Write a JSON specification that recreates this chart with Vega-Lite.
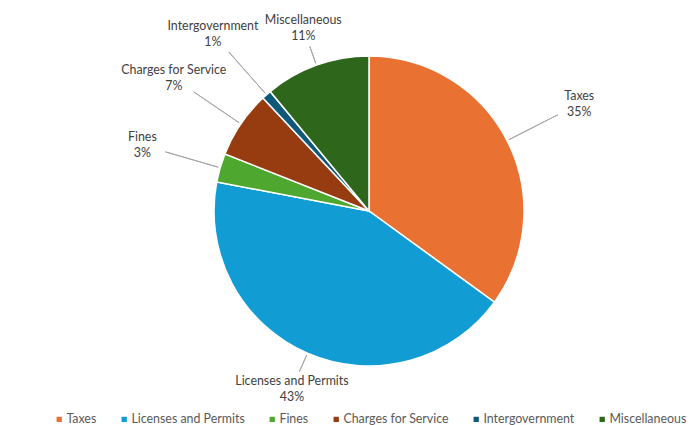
{
  "$schema": "https://vega.github.io/schema/vega-lite/v6.json",
  "width": 658,
  "height": 422,
  "autosize": {"type": "none"},
  "padding": {"left": 40, "top": 0, "right": 0, "bottom": 3},
  "background": "white",
  "config": {"view": {"stroke": null}, "font": "Lato"},
  "data": {
    "values": [
      {"idx": 1, "category": "Taxes", "share": 0.35},
      {"idx": 2, "category": "Licenses and Permits", "share": 0.43},
      {"idx": 3, "category": "Fines", "share": 0.03},
      {"idx": 4, "category": "Charges for Service", "share": 0.07},
      {"idx": 5, "category": "Intergovernment", "share": 0.01},
      {"idx": 6, "category": "Miscellaneous", "share": 0.11}
    ]
  },
  "encoding": {
    "theta": {"field": "share", "type": "quantitative", "stack": true},
    "order": {"field": "idx", "type": "quantitative", "sort": "ascending"},
    "detail": {"field": "category", "type": "nominal"}
  },
  "layer": [
    {
      "mark": {"type": "arc", "radius": 155, "stroke": "#ffffff", "strokeWidth": 1.5},
      "encoding": {
        "color": {
          "field": "category",
          "type": "nominal",
          "scale": {
            "domain": ["Taxes", "Licenses and Permits", "Fines", "Charges for Service", "Intergovernment", "Miscellaneous"],
            "range": ["#E97132", "#119CD4", "#4EA72E", "#963C10", "#0E5878", "#2E661C"]
          },
          "legend": {
            "title": null,
            "orient": "none",
            "legendX": 13,
            "legendY": 413,
            "direction": "horizontal",
            "columns": 6,
            "symbolType": "square",
            "symbolSize": 28,
            "symbolStrokeWidth": 0,
            "labelFontSize": 12.4,
            "labelColor": "#595959",
            "labelOffset": 1,
            "columnPadding": 21
          }
        }
      }
    },
    {
      "mark": {"type": "arc", "radius": 212, "radius2": 157, "padAngle": 3.14, "filled": false, "stroke": "#A6A6A6", "strokeWidth": 1},
      "encoding": {
        "strokeOpacity": {"condition": {"test": "indexof(['Taxes','Fines','Charges for Service','Intergovernment'], datum.category) >= 0", "value": 1}, "value": 0}
      }
    },
    {
      "mark": {"type": "arc", "radius": 175, "radius2": 157, "padAngle": 3.14, "filled": false, "stroke": "#A6A6A6", "strokeWidth": 1},
      "encoding": {
        "strokeOpacity": {"condition": {"test": "indexof(['Licenses and Permits','Miscellaneous'], datum.category) >= 0", "value": 1}, "value": 0}
      }
    },
    {
      "mark": {"type": "text", "radius": 236, "dy": -8, "fontSize": 12.4, "color": "#404040"},
      "encoding": {"text": {"condition": {"test": "indexof(['Taxes','Fines','Charges for Service','Intergovernment'], datum.category) >= 0", "field": "category"}, "value": ""}}
    },
    {
      "mark": {"type": "text", "radius": 236, "dy": 8, "fontSize": 12.4, "color": "#404040"},
      "encoding": {"text": {"condition": {"test": "indexof(['Taxes','Fines','Charges for Service','Intergovernment'], datum.category) >= 0", "field": "share", "type": "quantitative", "format": ".0%"}, "value": ""}}
    },
    {
      "mark": {"type": "text", "radius": 194, "dy": -8, "fontSize": 12.4, "color": "#404040"},
      "encoding": {"text": {"condition": {"test": "indexof(['Licenses and Permits','Miscellaneous'], datum.category) >= 0", "field": "category"}, "value": ""}}
    },
    {
      "mark": {"type": "text", "radius": 194, "dy": 8, "fontSize": 12.4, "color": "#404040"},
      "encoding": {"text": {"condition": {"test": "indexof(['Licenses and Permits','Miscellaneous'], datum.category) >= 0", "field": "share", "type": "quantitative", "format": ".0%"}, "value": ""}}
    }
  ]
}
